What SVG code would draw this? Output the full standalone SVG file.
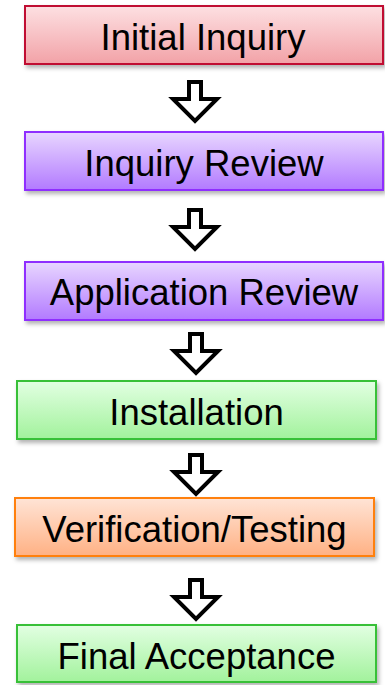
<svg xmlns="http://www.w3.org/2000/svg" width="385" height="685" viewBox="0 0 385 685">
  <defs>
    <linearGradient id="gRed" x1="0" y1="0" x2="0" y2="1">
      <stop offset="0" stop-color="#fde0e2"/>
      <stop offset="1" stop-color="#f2a2a7"/>
    </linearGradient>
    <linearGradient id="gPurple" x1="0" y1="0" x2="0" y2="1">
      <stop offset="0" stop-color="#e8d6ff"/>
      <stop offset="1" stop-color="#b27aff"/>
    </linearGradient>
    <linearGradient id="gGreen" x1="0" y1="0" x2="0" y2="1">
      <stop offset="0" stop-color="#e2ffe2"/>
      <stop offset="1" stop-color="#a2f29c"/>
    </linearGradient>
    <linearGradient id="gOrange" x1="0" y1="0" x2="0" y2="1">
      <stop offset="0" stop-color="#ffe4d6"/>
      <stop offset="1" stop-color="#ffb184"/>
    </linearGradient>
    <filter id="shadow" x="-5%" y="-20%" width="115%" height="150%">
      <feDropShadow dx="2" dy="3" stdDeviation="2" flood-color="#000" flood-opacity="0.3"/>
    </filter>
    <path id="arrow" d="M-6,2 H6 V19 H22 L0,41 L-22,19 H-6 Z"/>
  </defs>
  <style>
    .box { stroke-width: 2; filter: url(#shadow); }
    .red { fill: url(#gRed); stroke: #c01030; }
    .purple { fill: url(#gPurple); stroke: #8f2eff; }
    .green { fill: url(#gGreen); stroke: #38c038; }
    .orange { fill: url(#gOrange); stroke: #ff8010; }
    .label { font-family: "Liberation Sans", Arial, sans-serif; font-size: 36.5px; fill: #000; text-anchor: middle; }
    .arr { fill: #fff; stroke: #000; stroke-width: 4; stroke-linejoin: miter; }
  </style>

  <g id="connectors">
    <use href="#arrow" class="arr" transform="translate(195,80)"/>
    <use href="#arrow" class="arr" transform="translate(195,208)"/>
    <use href="#arrow" class="arr" transform="translate(196,332)"/>
    <use href="#arrow" class="arr" transform="translate(196,453)"/>
    <use href="#arrow" class="arr" transform="translate(196,578)"/>
  </g>

  <g id="initial-inquiry">
    <rect class="box red" x="25" y="6" width="358" height="58"/>
    <text class="label" x="203" y="49.5">Initial Inquiry</text>
  </g>
  <g id="inquiry-review">
    <rect class="box purple" x="25" y="132" width="358" height="58"/>
    <text class="label" x="204" y="175.5">Inquiry Review</text>
  </g>
  <g id="application-review">
    <rect class="box purple" x="25" y="262" width="358" height="58"/>
    <text class="label" x="204" y="305">Application Review</text>
  </g>
  <g id="installation">
    <rect class="box green" x="17" y="381" width="359" height="58"/>
    <text class="label" x="196.5" y="425">Installation</text>
  </g>
  <g id="verification-testing">
    <rect class="box orange" x="15" y="498" width="359" height="58"/>
    <text class="label" x="194.5" y="542">Verification/Testing</text>
  </g>
  <g id="final-acceptance">
    <rect class="box green" x="17" y="625" width="359" height="57"/>
    <text class="label" x="196.5" y="669">Final Acceptance</text>
  </g>
</svg>
